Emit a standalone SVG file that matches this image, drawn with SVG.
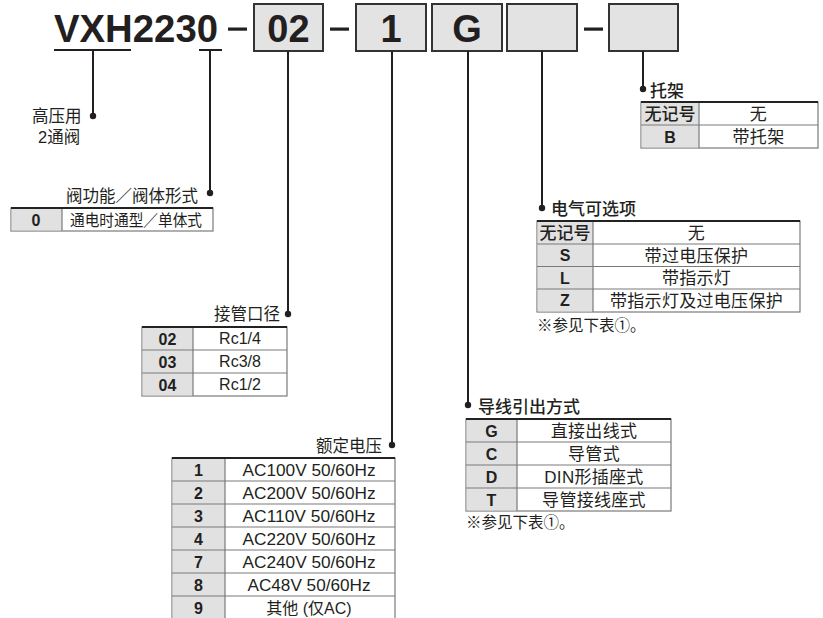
<svg xmlns="http://www.w3.org/2000/svg" width="823" height="618" viewBox="0 0 823 618">
<style>
text{font-family:"Liberation Sans","Noto Sans CJK SC",Arial,sans-serif;fill:#231f20}
.title{font-size:38px;font-weight:bold}
.lbl{font-size:17px;font-weight:500}
.lbl2{font-size:16.5px}
.code{font-size:16px;font-weight:bold;text-anchor:middle}
.hdr{font-size:17px;font-weight:500;text-anchor:middle}
.cell{font-size:16px;text-anchor:middle}
.cellz{font-size:17px;text-anchor:middle;letter-spacing:0.3px}
.note{font-size:15.5px}
.box{fill:#e3e3e3;stroke:#333;stroke-width:2}
.frame{fill:#fff;stroke:#7a7a7a;stroke-width:1.2}
.hc{fill:#e1e1e1}
.rl{stroke:#7a7a7a;stroke-width:1.2}
.top{stroke:#222;stroke-width:2.2}
.con{stroke:#231f20;stroke-width:2;fill:none}
.dot{fill:#231f20}
</style>

<g id="title">
<text class="title" x="54" y="42" textLength="164" lengthAdjust="spacingAndGlyphs">VXH2230</text>
<rect x="228" y="27.5" width="19" height="3.2" fill="#231f20"/>
<rect x="330" y="27.5" width="19" height="3.2" fill="#231f20"/>
<rect x="584" y="27.5" width="19" height="3.2" fill="#231f20"/>
</g>

<g id="box-02"><rect class="box" x="254" y="4" width="69" height="47"/><text class="title" x="288.5" y="42" text-anchor="middle">02</text></g>
<g id="box-1"><rect class="box" x="356" y="4" width="70" height="47"/><text class="title" x="391" y="42" text-anchor="middle">1</text></g>
<g id="box-G"><rect class="box" x="432" y="4" width="70" height="47"/><text class="title" x="467" y="42" text-anchor="middle">G</text></g>
<g id="box-opt"><rect class="box" x="507" y="4" width="70" height="47"/></g>
<g id="box-bracket"><rect class="box" x="609" y="4" width="69" height="47"/></g>

<g id="connectors">
<line class="con" x1="54" y1="50" x2="131" y2="50"/>
<line class="con" x1="199" y1="50" x2="222" y2="50"/>
<line class="con" x1="93" y1="50" x2="93" y2="116"/>
<circle class="dot" cx="93" cy="116" r="3.2"/>
<line class="con" x1="210" y1="50" x2="210" y2="193"/>
<circle class="dot" cx="210" cy="193" r="3.2"/>
<line class="con" x1="288" y1="51" x2="288" y2="314"/>
<circle class="dot" cx="288" cy="314" r="3.2"/>
<line class="con" x1="392" y1="51" x2="392" y2="445"/>
<circle class="dot" cx="392" cy="445" r="3.2"/>
<line class="con" x1="468" y1="51" x2="468" y2="405"/>
<circle class="dot" cx="468" cy="405" r="3.2"/>
<line class="con" x1="542" y1="51" x2="542" y2="208"/>
<circle class="dot" cx="542" cy="208" r="3.2"/>
<line class="con" x1="643" y1="51" x2="643" y2="89"/>
<circle class="dot" cx="643" cy="89" r="3.2"/>
</g>

<g id="high-pressure">
<text class="lbl2" x="32" y="122">高压用</text>
<text class="lbl2" x="38" y="143">2通阀</text>
</g>

<g id="valve-function">
<text class="lbl2" x="198" y="202" text-anchor="end" textLength="132" lengthAdjust="spacingAndGlyphs">阀功能／阀体形式</text>
<rect class="frame" x="11" y="208" width="202" height="23"/>
<rect class="hc" x="11.6" y="208.6" width="50.4" height="21.8"/>
<line class="rl" x1="62" y1="208" x2="62" y2="231"/>
<line class="top" x1="11" y1="208" x2="213" y2="208"/>
<text class="code" x="36" y="225.5">0</text>
<text class="cell" x="136" y="225.5" font-size="15.5" textLength="132" lengthAdjust="spacingAndGlyphs">通电时通型／单体式</text>
</g>

<g id="port-size">
<text class="lbl2" x="280" y="320" text-anchor="end">接管口径</text>
<rect class="frame" x="142" y="327" width="145" height="69"/>
<rect class="hc" x="142.6" y="327.6" width="50.4" height="67.8"/>
<line class="rl" x1="193" y1="327" x2="193" y2="396"/>
<line class="rl" x1="142" y1="350" x2="287" y2="350"/>
<line class="rl" x1="142" y1="373" x2="287" y2="373"/>
<line class="top" x1="142" y1="327" x2="287" y2="327"/>
<text class="code" x="167.5" y="344.5">02</text><text class="cell" x="240" y="344">Rc1/4</text>
<text class="code" x="167.5" y="367.5">03</text><text class="cell" x="240" y="367">Rc3/8</text>
<text class="code" x="167.5" y="390.5">04</text><text class="cell" x="240" y="390">Rc1/2</text>
</g>

<g id="voltage">
<text class="lbl2" x="382" y="452" text-anchor="end">额定电压</text>
<rect class="frame" x="172" y="458" width="223" height="164"/>
<rect class="hc" x="172.6" y="458.6" width="52.4" height="163"/>
<line class="rl" x1="225" y1="458" x2="225" y2="622"/>
<line class="rl" x1="172" y1="481" x2="395" y2="481"/>
<line class="rl" x1="172" y1="504" x2="395" y2="504"/>
<line class="rl" x1="172" y1="527" x2="395" y2="527"/>
<line class="rl" x1="172" y1="550" x2="395" y2="550"/>
<line class="rl" x1="172" y1="573" x2="395" y2="573"/>
<line class="rl" x1="172" y1="596" x2="395" y2="596"/>
<line class="top" x1="172" y1="458" x2="395" y2="458"/>
<text class="code" x="198.5" y="475.5">1</text><text class="cell" x="309" y="475.5" textLength="133" lengthAdjust="spacingAndGlyphs">AC100V 50/60Hz</text>
<text class="code" x="198.5" y="498.5">2</text><text class="cell" x="309" y="498.5" textLength="133" lengthAdjust="spacingAndGlyphs">AC200V 50/60Hz</text>
<text class="code" x="198.5" y="521.5">3</text><text class="cell" x="309" y="521.5" textLength="133" lengthAdjust="spacingAndGlyphs">AC110V 50/60Hz</text>
<text class="code" x="198.5" y="544.5">4</text><text class="cell" x="309" y="544.5" textLength="133" lengthAdjust="spacingAndGlyphs">AC220V 50/60Hz</text>
<text class="code" x="198.5" y="567.5">7</text><text class="cell" x="309" y="567.5" textLength="133" lengthAdjust="spacingAndGlyphs">AC240V 50/60Hz</text>
<text class="code" x="198.5" y="590.5">8</text><text class="cell" x="309" y="590.5" textLength="123" lengthAdjust="spacingAndGlyphs">AC48V 50/60Hz</text>
<text class="code" x="198.5" y="613.5">9</text><text class="cell" x="309" y="613.5" font-size="17">其他 (仅AC)</text>
</g>

<g id="lead-wire">
<text class="lbl" x="478" y="413">导线引出方式</text>
<rect class="frame" x="466" y="419" width="205" height="92"/>
<rect class="hc" x="466.6" y="419.6" width="50.4" height="90.8"/>
<line class="rl" x1="517" y1="419" x2="517" y2="511"/>
<line class="rl" x1="466" y1="442" x2="671" y2="442"/>
<line class="rl" x1="466" y1="465" x2="671" y2="465"/>
<line class="rl" x1="466" y1="488" x2="671" y2="488"/>
<line class="top" x1="466" y1="419" x2="671" y2="419"/>
<text class="code" x="491.5" y="436.5">G</text><text class="cellz" x="594" y="437">直接出线式</text>
<text class="code" x="491.5" y="459.5">C</text><text class="cellz" x="594" y="460">导管式</text>
<text class="code" x="491.5" y="482.5">D</text><text class="cellz" x="594" y="483">DIN形插座式</text>
<text class="code" x="491.5" y="505.5">T</text><text class="cellz" x="594" y="506">导管接线座式</text>
<text class="note" x="466" y="528">※参见下表①。</text>
</g>

<g id="electrical-option">
<text class="lbl" x="551" y="215">电气可选项</text>
<rect class="frame" x="537" y="221" width="263" height="91"/>
<rect class="hc" x="537.6" y="221.6" width="55.4" height="89.8"/>
<line class="rl" x1="593" y1="221" x2="593" y2="312"/>
<line class="rl" x1="537" y1="244" x2="800" y2="244"/>
<line class="rl" x1="537" y1="266.5" x2="800" y2="266.5"/>
<line class="rl" x1="537" y1="289" x2="800" y2="289"/>
<line class="top" x1="537" y1="221" x2="800" y2="221"/>
<text class="hdr" x="565" y="239">无记号</text><text class="cellz" x="696.5" y="239">无</text>
<text class="code" x="565" y="261">S</text><text class="cellz" x="696.5" y="261.5">带过电压保护</text>
<text class="code" x="565" y="283.5">L</text><text class="cellz" x="696.5" y="284">带指示灯</text>
<text class="code" x="565" y="306">Z</text><text class="cellz" x="696.5" y="306.5">带指示灯及过电压保护</text>
<text class="note" x="537" y="331">※参见下表①。</text>
</g>

<g id="bracket">
<text class="lbl" x="650" y="97">托架</text>
<rect class="frame" x="641" y="102" width="177" height="46"/>
<rect class="hc" x="641.6" y="102.6" width="57.4" height="44.8"/>
<line class="rl" x1="699" y1="102" x2="699" y2="148"/>
<line class="rl" x1="641" y1="125" x2="818" y2="125"/>
<line class="top" x1="641" y1="102" x2="818" y2="102"/>
<text class="hdr" x="670" y="120">无记号</text><text class="cellz" x="758.5" y="120">无</text>
<text class="code" x="670" y="142.5">B</text><text class="cellz" x="758.5" y="143">带托架</text>
</g>
</svg>
